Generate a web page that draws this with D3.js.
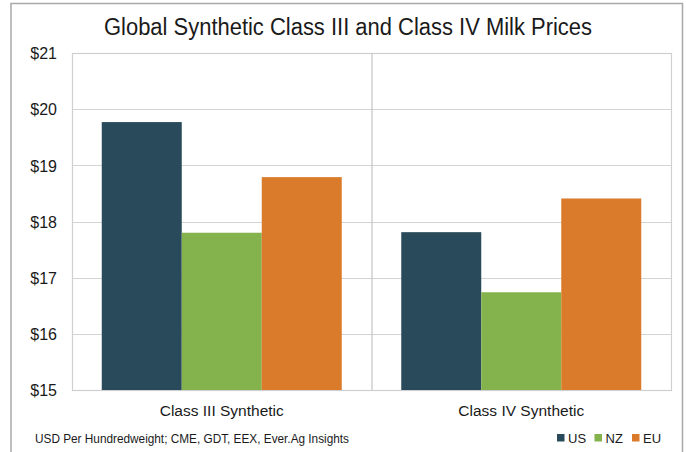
<!DOCTYPE html>
<html>
<head>
<meta charset="utf-8">
<script src="https://cdn.jsdelivr.net/npm/d3@7/dist/d3.min.js"></script>
<style>
  html, body { margin: 0; padding: 0; background: #ffffff; }
  svg { display: block; font-family: "Liberation Sans", Arial, sans-serif; }
</style>
</head>
<body>
<svg id="chart" width="686" height="452"></svg>
<script>
// Chart data
const categories = ["Class III Synthetic", "Class IV Synthetic"];
const seriesNames = ["US", "NZ", "EU"];
const usValues = [19.77, 17.81];
const nzValues = [17.80, 16.74];
const euValues = [18.79, 18.41];
const yTickValues = [15, 16, 17, 18, 19, 20, 21];
const seriesColors = ["#284a5a", "#84b24c", "#da7b2c"];

const titleText = "Global Synthetic Class III and Class IV Milk Prices";
const footnoteText = "USD Per Hundredweight; CME, GDT, EEX, Ever.Ag Insights";

// Rows built from the arrays above
const seriesValues = [usValues, nzValues, euValues];
const rows = categories.map((c, i) => ({
  category: c,
  values: seriesNames.map((s, j) => ({ series: s, value: seriesValues[j][i] }))
}));

const svg = d3.select("#chart");
const W = 686, H = 452;
const plot = { left: 72, right: 671, top: 53, bottom: 390 };

// Outer frame (top, left, right edges)
svg.append("path")
  .attr("d", `M11,${H} L11,3.5 L682.5,3.5 L682.5,${H}`)
  .attr("fill", "none")
  .attr("stroke", "#a9a9a9")
  .attr("stroke-width", 1.5);

// Scales
const x0 = d3.scaleBand().domain(categories).range([plot.left, plot.right]).paddingInner(0).paddingOuter(0);
const x1 = d3.scaleBand().domain(seriesNames).range([0, x0.bandwidth()]).paddingInner(0).paddingOuter(0.372);
const y = d3.scaleLinear().domain([15, 21]).range([plot.bottom, plot.top]);
const color = d3.scaleOrdinal().domain(seriesNames).range(seriesColors);

// Horizontal gridlines
svg.append("g")
  .selectAll("line")
  .data(yTickValues)
  .join("line")
  .attr("x1", plot.left).attr("x2", plot.right)
  .attr("y1", d => Math.round(y(d)) + 0.5).attr("y2", d => Math.round(y(d)) + 0.5)
  .attr("stroke", "#d4d4d4")
  .attr("stroke-width", 1.2);

// Plot border and category separators
svg.append("rect")
  .attr("x", plot.left + 0.5).attr("y", plot.top + 0.5)
  .attr("width", plot.right - plot.left).attr("height", plot.bottom - plot.top)
  .attr("fill", "none")
  .attr("stroke", "#cfcfcf")
  .attr("stroke-width", 1.2);

svg.append("g")
  .selectAll("line")
  .data(categories.slice(1))
  .join("line")
  .attr("x1", d => x0(d) + 0.5).attr("x2", d => x0(d) + 0.5)
  .attr("y1", plot.top).attr("y2", plot.bottom)
  .attr("stroke", "#c4c4c4")
  .attr("stroke-width", 1.2);

// Bars
const groups = svg.append("g")
  .selectAll("g")
  .data(rows)
  .join("g")
  .attr("transform", d => `translate(${x0(d.category)},0)`);

groups.selectAll("rect")
  .data(d => d.values)
  .join("rect")
  .attr("x", d => x1(d.series))
  .attr("y", d => y(d.value))
  .attr("width", x1.bandwidth())
  .attr("height", d => y(15) - y(d.value))
  .attr("fill", d => color(d.series));

// Y axis labels
const yAxis = d3.axisLeft(y)
  .tickValues(yTickValues)
  .tickFormat(d => "$" + d)
  .tickSize(0)
  .tickPadding(0);

const yAxisG = svg.append("g")
  .attr("transform", "translate(57,0)")
  .call(yAxis);
yAxisG.select(".domain").remove();
yAxisG.selectAll("text")
  .attr("font-family", "'Liberation Sans', Arial, sans-serif")
  .attr("font-size", 16)
  .attr("fill", "#1a1a1a")
  .attr("dy", "0.36em");

// Category labels
const xAxis = d3.axisBottom(x0).tickSize(0).tickPadding(0);
const xAxisG = svg.append("g")
  .attr("transform", "translate(0,416)")
  .call(xAxis);
xAxisG.select(".domain").remove();
xAxisG.selectAll("text")
  .attr("font-family", "'Liberation Sans', Arial, sans-serif")
  .attr("font-size", 15.5)
  .attr("fill", "#1a1a1a")
  .attr("dy", 0);

// Title
svg.append("text")
  .attr("x", 348)
  .attr("y", 34.5)
  .attr("text-anchor", "middle")
  .attr("font-size", 23)
  .attr("fill", "#1a1a1a")
  .attr("textLength", 488)
  .attr("lengthAdjust", "spacingAndGlyphs")
  .text(titleText);

// Source note
svg.append("text")
  .attr("x", 35)
  .attr("y", 442.5)
  .attr("font-size", 12.5)
  .attr("fill", "#1a1a1a")
  .attr("textLength", 314)
  .attr("lengthAdjust", "spacingAndGlyphs")
  .text(footnoteText);

// Legend
const legendX = d3.scalePoint().domain(seriesNames).range([557, 632]);
const legend = svg.append("g")
  .selectAll("g")
  .data(seriesNames)
  .join("g")
  .attr("transform", d => `translate(${legendX(d)},0)`);

legend.append("rect")
  .attr("x", 0).attr("y", 434)
  .attr("width", 7.5).attr("height", 7.5)
  .attr("fill", d => color(d));

legend.append("text")
  .attr("x", 11)
  .attr("y", 442.5)
  .attr("font-size", 13)
  .attr("fill", "#1a1a1a")
  .text(d => d);
</script>
</body>
</html>
